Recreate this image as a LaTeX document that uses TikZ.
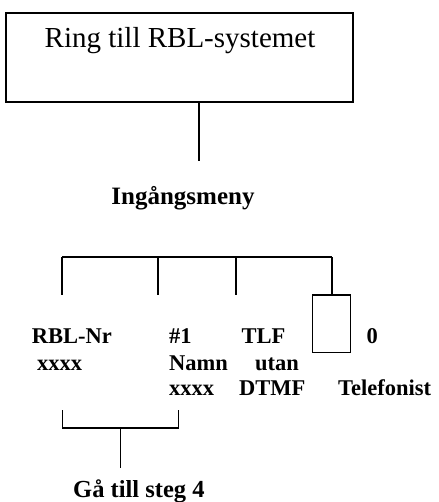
\documentclass[tikz,border=0pt]{standalone}
\usepackage{fontspec}
\setmainfont{Liberation Serif}
\begin{document}
\begin{tikzpicture}[x=1pt,y=-1pt,
  line/.style={line width=1.3pt, black},
  lbl/.style={inner sep=0pt, anchor=base west, font=\fontsize{22.5}{26}\selectfont\bfseries},
  boxed/.style={draw, line width=1.3pt, inner sep=0pt}]
\useasboundingbox (0,0) rectangle (438,502);
% top box
\node[boxed, minimum width=347pt, minimum height=89pt] (ring) at (179.5,57.5) {};
\node[inner sep=0pt, anchor=base, font=\fontsize{29}{33}\selectfont] (ringtxt) at (180,48) {Ring till RBL-systemet};
\coordinate (c1) at (199,161);
\draw[line] (ring.south -| c1) -- (c1);
\node[inner sep=0pt, anchor=base, font=\fontsize{25}{29}\selectfont\bfseries] (menu) at (183,205) {Ingångsmeny};
% bar
\coordinate (b1) at (62,257);
\coordinate (b2) at (158,257);
\coordinate (b3) at (236,257);
\coordinate (b4) at (332,257);
\node[boxed, minimum width=38pt, minimum height=57.7pt] (zbox) at (331.7,323.9) {};
\draw[line] (b1) -- (b4);
\draw[line] (b1) -- ++(0,38);
\draw[line] (b2) -- ++(0,38);
\draw[line] (b3) -- ++(0,38);
\draw[line] (b4) -- (b4 |- zbox.north);
% labels
\node[lbl] (rblnr) at (31.7,343) {RBL-Nr};
\node[lbl] (x1) at (37,370) {xxxx};
\node[lbl] (h1) at (169,343) {\#1};
\node[lbl] (namn) at (169,370) {Namn};
\node[lbl] (x2) at (169,395) {xxxx};
\node[lbl] (tlf) at (241.5,343) {TLF};
\node[lbl] (utan) at (255,370) {utan};
\node[lbl] (dtmf) at (239,395) {DTMF};
\node[lbl] (zero) at (366.5,343) {0};
\node[lbl] (telef) at (338,395) {Telefonist};
% bracket
\coordinate (k1) at (62.5,410);
\coordinate (k2) at (178.5,410);
\coordinate (k3) at (120.5,428);
\draw[line] (k1) -- (k1 |- k3) -- (k2 |- k3) -- (k2);
\node[inner sep=0pt, anchor=base west, font=\fontsize{24.5}{28}\selectfont\bfseries] (steg) at (73,497) {Gå till steg 4};
\draw[line] (k3) -- ++(0,40);
\end{tikzpicture}
\end{document}
